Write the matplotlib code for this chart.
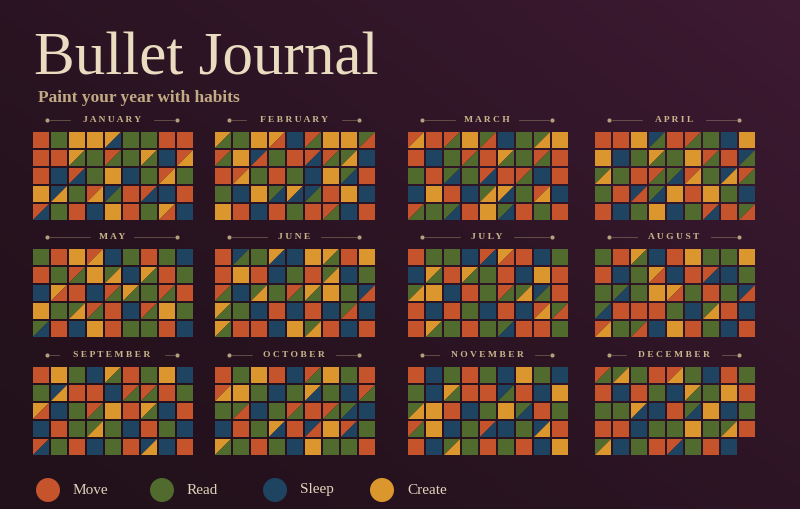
import matplotlib.pyplot as plt
from matplotlib.patches import Rectangle, Polygon, Circle
import numpy as np

months = ['JANUARY', 'FEBRUARY', 'MARCH', 'APRIL', 'MAY', 'JUNE',
          'JULY', 'AUGUST', 'SEPTEMBER', 'OCTOBER', 'NOVEMBER', 'DECEMBER']

# each token = one day; two letters = diagonal split (upper-left, lower-right)
grids = [
    ["M R C C CS R R M M", "M M CR R MR R CR S MC", "M S MS R C S R MC R",
     "C SC R MC SR M MS S M", "MS R M S C M R CM S"],
    ["CR R C CM S MR C C RM", "MR C SM R M MS MR RC S", "M MC R M R S C RS M",
     "R S C RS CS SR M C S", "C M S M R M MR S M"],
    ["MC M MR C RM S R RC C", "M S R MR M CR R MR M", "R M RS R MS M MR S M",
     "S C M S RC CS R MC S", "MR R RS M C RS M R M"],
    ["M M C SR M MR R S C", "C S R CR R C MR M SR", "RC R M MR RS MC R SC MR",
     "R M SM RS C M C R S", "M S R C S R MS M RM"],
    ["R M C MC S R M R S", "M R MR C RC S CR M R", "S CM M S MR CR R MR M",
     "C R RC MR M S MR C R", "RS M S C M R R M S"],
    ["M SR R CS S C CR M C", "M C M S R M RC S R", "MR S RC R MR CR C R SM",
     "CR R S M S M S RM S", "CR M M S C RC M S M"],
    ["M R R S MS CM M S R", "S CR M CR R M S C M", "RC C S M R MR RC SR M",
     "M S M R S M S MC RM", "M CR R M R RS M M R"],
    ["R M CR S M C R R C", "M S R CM S M MS S R", "R RS R C CM R M R SM",
     "RS M M M R S RC M S", "MC R RM S C M R S M"],
    ["M C R S CR M R C S", "R SC M M S MR MR M R", "CM S R MR C M CR S M",
     "S M R RC R S M R S", "MS R M S R M SC S M"],
    ["M R C M S MR C R M", "MC C R S R CS R S MR", "R RM S R MR M MR RS S",
     "S M R CS M SM C MS R", "CR R M R S C R R M"],
    ["M S R M R S C R S", "R S CR M M SR M S C", "RC C M S R C RS M R",
     "MR C S R MS S R SC M", "M S RC R M R M S C"],
    ["MR RC R M MC R S M R", "M S M R S CR R C M", "R R CS S M RS C S R",
     "M M S R R C R RC M", "RC S R M MS R M S"],
]

habits = ['Move', 'Read', 'Sleep', 'Create']
colors = {'M': '#c5532b', 'R': '#516a2d', 'S': '#1e4462', 'C': '#dc962e'}

W, H = 800, 509
fig = plt.figure(figsize=(8, 5.09), dpi=100)
ax = fig.add_axes([0, 0, 1, 1])
ax.set_xlim(0, W)
ax.set_ylim(H, 0)
ax.axis('off')

# background gradient
yy, xx = np.mgrid[0:1:200j, 0:1:300j]
g = 0.55 * xx + 0.45 * (1 - yy)
bg = np.zeros((200, 300, 3))
c0 = np.array([0x22, 0x11, 0x1b]) / 255
c1 = np.array([0x3e, 0x1a, 0x33]) / 255
for k in range(3):
    bg[..., k] = c0[k] + (c1[k] - c0[k]) * g ** 1.5
ax.imshow(bg, extent=[0, W, H, 0], aspect='auto', zorder=0)

ax.text(34, 74, 'Bullet Journal', fontsize=44, family='Liberation Serif',
        color='#eadcc0', va='baseline')
ax.text(38, 102, 'Paint your year with habits', fontsize=12.5, family='Liberation Serif',
        color='#c2aa84', va='baseline', fontweight='bold')

col_x = [32, 214, 407, 594]
row_y = [131, 248, 366]
step = 18.0
size = 16.0
lab_col = '#c9b48c'

for i, name in enumerate(months):
    x0 = col_x[i % 4]
    y0 = row_y[i // 4]
    cx = x0 + 4.5 * step - 1
    ly = y0 - 11
    ax.text(cx, ly, ' '.join(name), ha='center', va='center', fontsize=6.8,
            family='Liberation Serif', fontweight='bold', color=lab_col)
    half = len(name) * 5.2 + 6
    ax.plot([x0 + 18, cx - half], [ly, ly], color=lab_col, lw=0.5, alpha=0.5)
    ax.plot([cx + half, x0 + 142], [ly, ly], color=lab_col, lw=0.5, alpha=0.5)
    ax.plot([x0 + 15, x0 + 145], [ly, ly], 'o', ms=2, color=lab_col, alpha=0.8)
    for r, row in enumerate(grids[i]):
        for c, tok in enumerate(row.split()):
            x = x0 + c * step + 1
            y = y0 + r * step + 1
            if len(tok) == 1:
                ax.add_patch(Rectangle((x, y), size, size, facecolor=colors[tok],
                                       lw=0, zorder=2))
            else:
                ax.add_patch(Polygon([(x, y), (x + size, y), (x, y + size)], closed=True,
                                     facecolor=colors[tok[0]], lw=0, zorder=2))
                ax.add_patch(Polygon([(x + size, y), (x + size, y + size), (x, y + size)],
                                     closed=True, facecolor=colors[tok[1]], lw=0, zorder=2))

leg_x = [48, 162, 275, 382]
for lx, hb in zip(leg_x, habits):
    ax.add_patch(Circle((lx, 490), 12, facecolor=colors[hb[0]], lw=0, zorder=2))
    ax.text(lx + 25, 490, hb, va='center', fontsize=11, family='Liberation Serif',
            color='#e2d4bc')

fig.savefig('out.png', dpi=100)
